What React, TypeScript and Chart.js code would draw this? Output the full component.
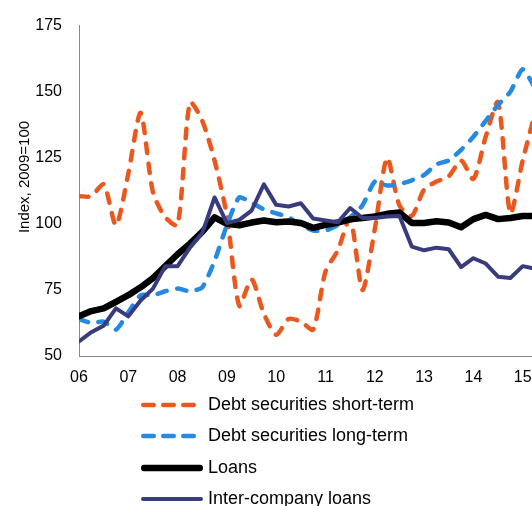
import React, { useEffect, useRef } from 'react'
import { Chart, registerables } from 'chart.js'

Chart.register(...registerables)

// quarterly observations, 2006Q1 .. 2015Q2
const quarters = [
  '2006Q1', '2006Q2', '2006Q3', '2006Q4',
  '2007Q1', '2007Q2', '2007Q3', '2007Q4',
  '2008Q1', '2008Q2', '2008Q3', '2008Q4',
  '2009Q1', '2009Q2', '2009Q3', '2009Q4',
  '2010Q1', '2010Q2', '2010Q3', '2010Q4',
  '2011Q1', '2011Q2', '2011Q3', '2011Q4',
  '2012Q1', '2012Q2', '2012Q3', '2012Q4',
  '2013Q1', '2013Q2', '2013Q3', '2013Q4',
  '2014Q1', '2014Q2', '2014Q3', '2014Q4',
  '2015Q1', '2015Q2',
]

const yearLabels = ['06', '07', '08', '09', '10', '11', '12', '13', '14', '15']

const shortTerm = [
  110.5, 110.5, 115, 99.5, 119, 142, 112, 102.5, 99.5, 146,
  139, 124, 103, 69, 79, 66, 58, 64, 63, 60,
  82, 90, 102, 75, 98, 125, 107, 103, 113, 116,
  118, 124, 117, 133, 146, 104, 124, 142,
]

const longTerm = [
  64, 62.5, 63, 60, 66.5, 73, 73, 74.5, 75.5, 74.5,
  76, 86, 99.5, 110, 108, 105.5, 104, 102.5, 99.5, 97.5,
  97.5, 99.5, 102.5, 107, 116, 114.5, 115, 116.5, 118.5, 122.5,
  124, 128, 133, 139, 145, 150, 158.5, 151.5,
]

const loans = [
  65, 67, 68, 70.5, 73, 76, 79.5, 84, 88.5, 92.5,
  97, 102.5, 100, 99.5, 100.5, 101.3, 100.6, 100.9, 100.3, 98.5,
  99.6, 100.5, 101.7, 102.2, 102.8, 103.8, 104.3, 100.3, 100.3, 101,
  100.5, 98.7, 101.8, 103.4, 101.8, 102.2, 103, 103,
]

const interCompany = [
  55.5, 59, 61.5, 68, 65, 71, 75.5, 84, 84, 91,
  96.5, 110, 100.3, 101.5, 105, 115, 107.2, 106.6, 107.8, 102,
  101.3, 100.6, 106, 102.2, 102.2, 102.8, 103, 91.4, 90, 91,
  90.4, 83.6, 87, 85, 80, 79.5, 84, 83,
]

const FONT = "'Liberation Sans', Arial, Helvetica, sans-serif"
const AXIS = '#898989'

const toPoints = (values: number[]) => quarters.map((_, i) => ({ x: i, y: values[i] }))

// y title and the stacked legend under the plot
const legendAndTitle = {
  id: 'legendAndTitle',
  afterDraw(chart: any) {
    const ctx = chart.ctx
    ctx.save()
    ctx.translate(17, 169)
    ctx.rotate(-Math.PI / 2)
    ctx.font = `15px ${FONT}`
    ctx.fillStyle = '#000'
    ctx.textAlign = 'center'
    ctx.textBaseline = 'middle'
    ctx.fillText('Index, 2009=100', 0, 0)
    ctx.restore()

    const rows = [397, 428, 460, 491]
    chart.data.datasets.forEach((ds: any, i: number) => {
      const y = rows[i]
      const half = ds.borderWidth / 2
      ctx.save()
      ctx.strokeStyle = ds.borderColor
      ctx.lineWidth = ds.borderWidth
      ctx.lineCap = 'round'
      ctx.setLineDash(ds.borderDash ? [10.5, 9.5] : [])
      ctx.beginPath()
      ctx.moveTo(133 + half, y)
      ctx.lineTo(195 - half, y)
      ctx.stroke()
      ctx.setLineDash([])
      ctx.font = `18px ${FONT}`
      ctx.fillStyle = '#000'
      ctx.textBaseline = 'middle'
      ctx.fillText(ds.label, 200, y)
      ctx.restore()
    })
  },
}

const App = () => {
  const chartRef = useRef<HTMLCanvasElement>(null)

  useEffect(() => {
    // the plot runs past the window's right and bottom edges, as in the source
    document.documentElement.style.overflow = 'hidden'
    document.body.style.margin = '0'
    if (!chartRef.current) return
    const ctx = chartRef.current.getContext('2d')
    if (!ctx) return

    const chart = new Chart(ctx, {
      type: 'line',
      data: {
        datasets: [
          {
            label: 'Debt securities short-term',
            data: toPoints(shortTerm),
            borderColor: '#EB581E',
            borderWidth: 4.5,
            borderDash: [9.5, 10.5],
            borderCapStyle: 'round',
            tension: 0.25,
            order: 4,
          },
          {
            label: 'Debt securities long-term',
            data: toPoints(longTerm),
            borderColor: '#268AE0',
            borderWidth: 4.5,
            borderDash: [9.5, 10.5],
            borderCapStyle: 'round',
            tension: 0.2,
            order: 3,
          },
          {
            label: 'Loans',
            data: toPoints(loans),
            borderColor: '#000000',
            borderWidth: 6.5,
            borderCapStyle: 'round',
            tension: 0,
            order: 2,
          },
          {
            label: 'Inter-company loans',
            data: toPoints(interCompany),
            borderColor: '#383C7C',
            borderWidth: 4,
            borderCapStyle: 'round',
            tension: 0,
            order: 1,
          },
        ],
      },
      options: {
        animation: false,
        responsive: true,
        maintainAspectRatio: false,
        layout: { padding: { top: 17.7, right: 20, bottom: 142, left: 0 } },
        elements: {
          point: { radius: 0, hoverRadius: 0 },
          line: { borderJoinStyle: 'round' },
        },
        plugins: {
          legend: { display: false },
          tooltip: { enabled: false },
        },
        scales: {
          x: {
            type: 'linear',
            min: 0,
            max: 40,
            grid: { display: false, drawTicks: false },
            border: { color: AXIS, width: 1 },
            ticks: {
              stepSize: 4,
              includeBounds: false,
              autoSkip: false,
              maxRotation: 0,
              padding: 12,
              color: '#000',
              font: { family: FONT, size: 16 },
              callback: (v: any) => yearLabels[Math.round(Number(v) / 4)] ?? '',
            },
            afterFit: (s: any) => { s.height = 40 },
          },
          y: {
            min: 50,
            max: 175,
            grid: {
              display: true,
              drawOnChartArea: false,
              drawTicks: true,
              tickLength: 17,
              tickColor: 'rgba(0,0,0,0)',
              color: 'rgba(0,0,0,0)',
            },
            border: { color: AXIS, width: 1 },
            ticks: {
              stepSize: 25,
              padding: 0,
              color: '#000',
              font: { family: FONT, size: 16 },
            },
            afterFit: (s: any) => { s.width = 71 },
          },
        },
      },
      plugins: [legendAndTitle],
    })

    return () => {
      chart.destroy()
    }
  }, [])

  return (
    <div style={{ width: 532, height: 506, overflow: 'hidden' }}>
      <div style={{ width: 584, height: 530, marginLeft: 8, marginTop: 8 }}>
        <canvas ref={chartRef} />
      </div>
    </div>
  )
}

export default App
